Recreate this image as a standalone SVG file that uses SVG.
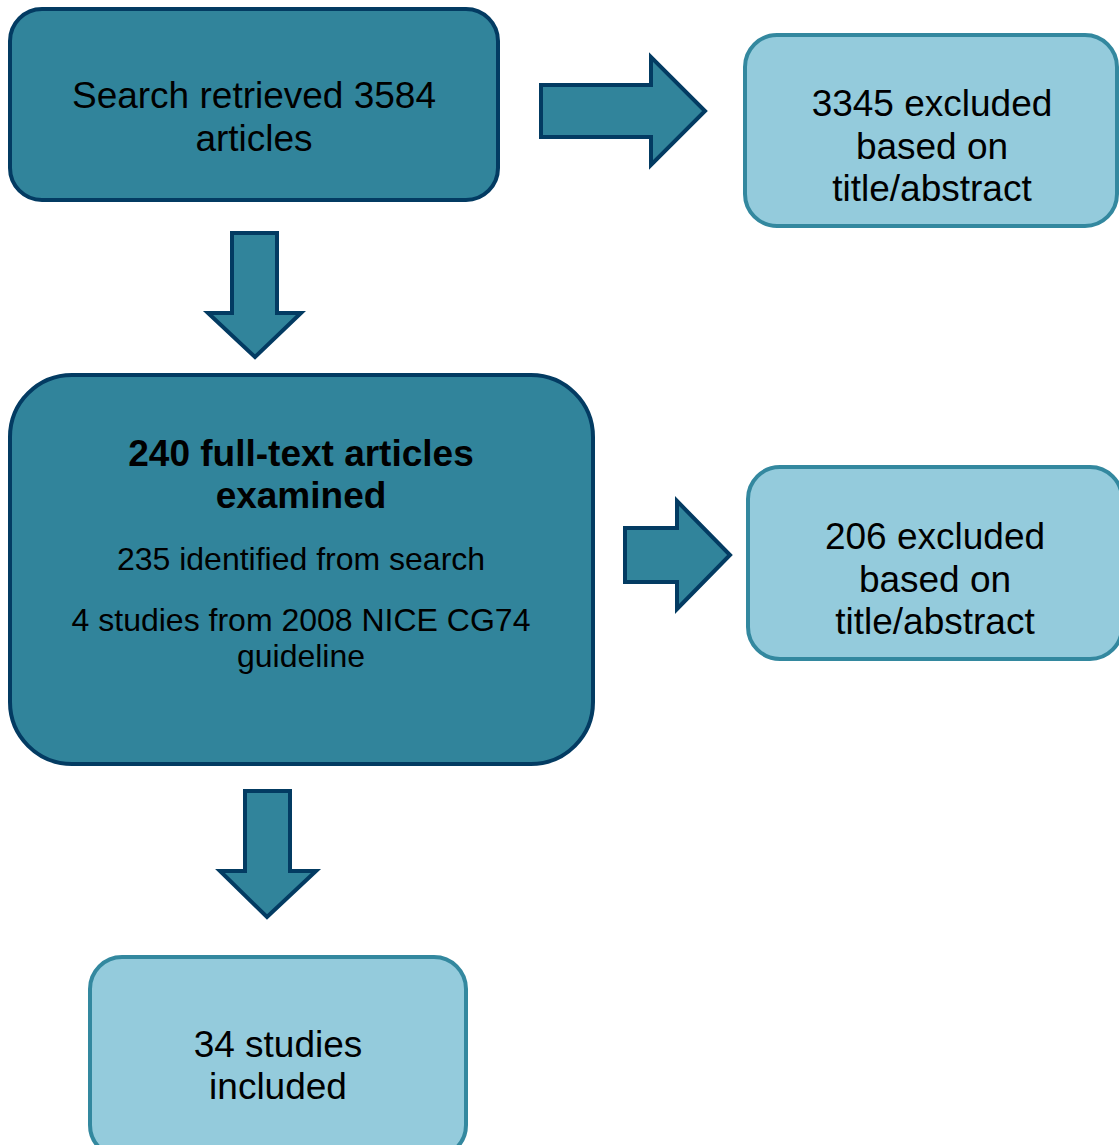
<svg xmlns="http://www.w3.org/2000/svg" width="1119" height="1145" viewBox="0 0 1119 1145">
<style>
.dark{fill:#31849b;stroke:#033b62;stroke-width:4}
.light{fill:#94cbdc;stroke:#33889f;stroke-width:4}
.arrow{fill:#31849b;stroke:#033b62;stroke-width:4;stroke-linejoin:miter}
text{font-family:"Liberation Sans",Arial,sans-serif;fill:#000;text-anchor:middle}
.t37{font-size:37px}
.b37{font-size:37px;font-weight:bold}
.t32{font-size:32px}
</style>
<rect width="1119" height="1145" fill="#ffffff"/>
<g id="connectors">
<polygon class="arrow" points="541,85 651,85 651,57 705,111 651,165 651,137 541,137"/>
<polygon class="arrow" points="232,233 277,233 277,313 301,313 255,357 208,313 232,313"/>
<polygon class="arrow" points="625,528 677,528 677,501 730,555 677,609 677,582 625,582"/>
<polygon class="arrow" points="245,791 290,791 290,871 316,871 267,917 220,871 245,871"/>
</g>
<g id="node-search">
<rect class="dark" x="10" y="9" width="488" height="191" rx="32"/>
<text class="t37" x="254" y="108">Search retrieved 3584</text>
<text class="t37" x="254" y="151">articles</text>
</g>
<g id="node-excluded1">
<rect class="light" x="745" y="35" width="372" height="191" rx="32"/>
<text class="t37" x="932" y="116">3345 excluded</text>
<text class="t37" x="932" y="159">based on</text>
<text class="t37" x="932" y="201">title/abstract</text>
</g>
<g id="node-fulltext">
<rect class="dark" x="10" y="375" width="583" height="389" rx="62"/>
<text class="b37" x="301" y="466">240 full-text articles</text>
<text class="b37" x="301" y="508">examined</text>
<text class="t32" x="301" y="570">235 identified from search</text>
<text class="t32" x="301" y="631">4 studies from 2008 NICE CG74</text>
<text class="t32" x="301" y="667">guideline</text>
</g>
<g id="node-excluded2">
<rect class="light" x="748" y="467" width="374" height="192" rx="32"/>
<text class="t37" x="935" y="549">206 excluded</text>
<text class="t37" x="935" y="592">based on</text>
<text class="t37" x="935" y="634">title/abstract</text>
</g>
<g id="node-included">
<rect class="light" x="90" y="957" width="376" height="200" rx="32"/>
<text class="t37" x="278" y="1057">34 studies</text>
<text class="t37" x="278" y="1099">included</text>
</g>
</svg>
